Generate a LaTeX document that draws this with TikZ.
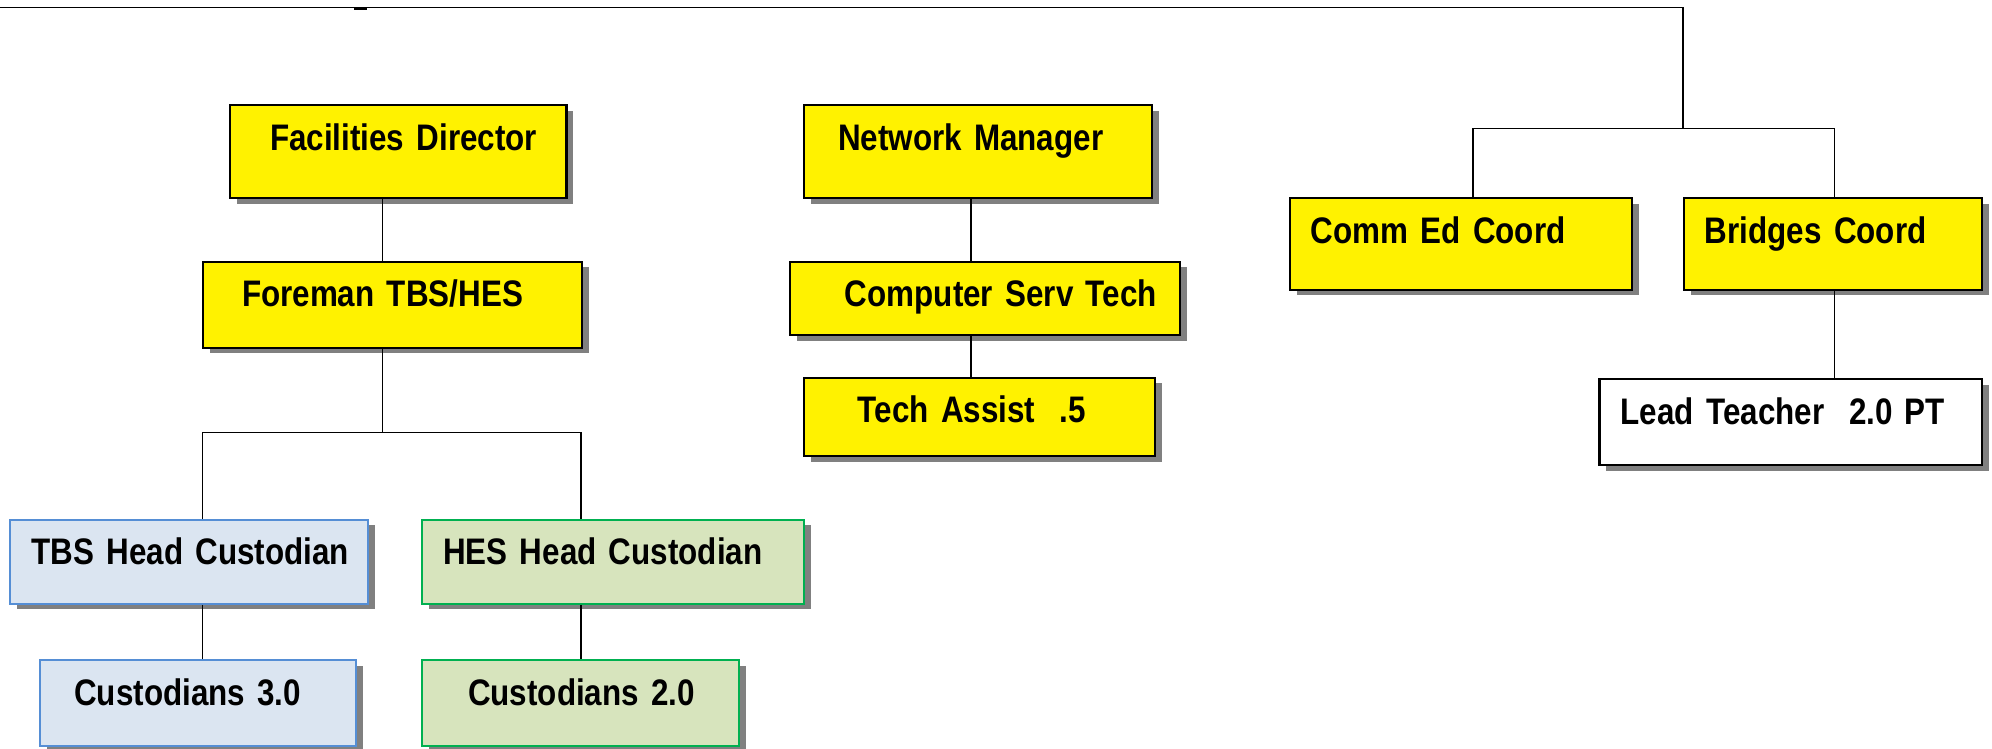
\documentclass[tikz,border=0pt]{standalone}
\usepackage{fontspec}
\setmainfont[FakeStretch=0.85,WordSpace=0.6]{Liberation Sans}
\usepackage{tikz}
\usetikzlibrary{shadows}

\definecolor{tbsfill}{HTML}{DBE5F1}
\definecolor{tbsline}{HTML}{558ED5}
\definecolor{hesfill}{HTML}{D7E4BD}
\definecolor{hesline}{HTML}{00B050}

\begin{document}
\begin{tikzpicture} [%
    x = 0.01cm, y = -0.01cm,
    every node/.style = {font = \fontsize{10.5}{12}\selectfont\bfseries},
    post/.style = {%
      rectangle, draw, line width = 0.6pt,
      fill = yellow,
      anchor = north west, inner sep = 0pt,
      align = left, text height = 0.45cm,
      drop shadow = {shadow xshift = 0.07cm, shadow yshift = -0.055cm,
                     fill = black!50, opacity = 1} },
    plain/.style = {post, fill = white},
    tbs/.style = {post, draw = tbsline, fill = tbsfill},
    hes/.style = {post, draw = hesline, fill = hesfill},
    box/.style n args = {3}{%
      text width = #1cm, text depth = #2cm,
      execute at begin node = {\noindent\hspace*{#3cm}} },
    link/.style = {line width = 0.4pt}
  ]
\useasboundingbox (0,0) rectangle (1992,748);

\node[post,box={3.366}{0.477}{0.404}]  (fd) at (228.6,104.3) {Facilities Director};
\node[post,box={3.79}{0.41}{0.39}]     (fm) at (202,260.7)   {Foreman TBS/HES};
\node[tbs,box={3.577}{0.39}{0.214}]    (th) at (8.9,518.7)   {TBS Head Custodian};
\node[tbs,box={3.159}{0.41}{0.34}]     (c3) at (39.2,659)    {Custodians 3.0};
\node[hes,box={3.818}{0.39}{0.21}]     (hh) at (421,518.7)   {HES Head Custodian};
\node[hes,box={3.164}{0.41}{0.46}]     (c2) at (421,659)     {Custodians 2.0};

\node[post,box={3.482}{0.477}{0.343}]  (nm) at (802.7,104.3) {Network Manager};
\node[post,box={3.902}{0.286}{0.55}]   (cs) at (788.8,260.7) {Computer Serv Tech};
\node[post,box={3.506}{0.333}{0.54}]   (ta) at (802.7,376.7) {Tech Assist~~.5};

\node[post,box={3.42}{0.467}{0.21}]    (ce) at (1288.6,197)  {Comm Ed Coord};
\node[post,box={2.979}{0.467}{0.21}]   (bc) at (1682.8,197)  {Bridges Coord};
\node[plain,box={3.823}{0.41}{0.213}]  (lt) at (1598.4,378.3) {Lead Teacher~~2.0 PT};

% trunk positions
\coordinate (top)   at (0,7.5);
\coordinate (stub)  at (354,8.7);
\coordinate (split) at (1683,128.7);
\coordinate (fork)  at (382.5,432.7);
\coordinate (facx)  at (382.5,0);
\coordinate (tbsx)  at (202.4,0);
\coordinate (hesx)  at (581,0);
\coordinate (netx)  at (971,0);
\coordinate (cex)   at (1473,0);
\coordinate (bcx)   at (1834.5,0);

\draw[link] (top) -| (split);
\draw[line width = 0.6pt] (stub) -- ++(13,0);
\draw[link] (ce.north -| cex) |- (split) -| (bc.north -| bcx);
\draw[link] (bc.south -| bcx) -- (lt.north -| bcx);

\draw[link] (fd.south -| facx) -- (fm.north -| facx);
\draw[link] (fm.south -| facx) -- (fork);
\draw[link] (th.north -| tbsx) |- (fork) -| (hh.north -| hesx);
\draw[link] (th.south -| tbsx) -- (c3.north -| tbsx);
\draw[link] (hh.south -| hesx) -- (c2.north -| hesx);

\draw[link] (nm.south -| netx) -- (cs.north -| netx);
\draw[link] (cs.south -| netx) -- (ta.north -| netx);

\end{tikzpicture}
\end{document}
